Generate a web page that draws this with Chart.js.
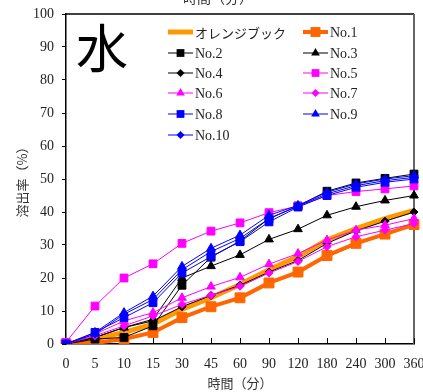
<!DOCTYPE html>
<html>
<head>
<meta charset="utf-8">
<script src="https://cdn.jsdelivr.net/npm/chart.js@4/dist/chart.umd.min.js"></script>
<style>
  html, body { margin: 0; padding: 0; background: #fff; }
  #wrap { width: 423px; height: 392px; position: relative; }
</style>
</head>
<body>
<div id="wrap"><canvas id="c" width="423" height="392"></canvas></div>
<script>
'use strict';

// 時間（分）
const TIMES = ['0', '5', '10', '15', '30', '45', '60', '90', '120', '180', '240', '300', '360'];

// 溶出率（%）
const ORANGE_BOOK = [0, 1.5, 3.5, 6, 10.5, 14, 18, 22.5, 26.5, 31.5, 35, 38, 40.5];
const NO1  = [0, 0.3, 1.5, 3.5, 8, 11.3, 14, 18.5, 21.8, 26.8, 30.5, 33.3, 36.2];
const NO2  = [0, 1.5, 2, 5.5, 17.8, 26.3, 31.2, 38, 41.8, 46.3, 48.8, 50.2, 51.5];
const NO3  = [0, 2, 5, 7.5, 20, 23.6, 27, 31.7, 34.8, 39, 41.6, 43.5, 45];
const NO4  = [0, 2, 5, 7, 11.3, 14.7, 17.8, 21.8, 25.3, 30.5, 34.3, 37.2, 40];
const NO5  = [0.5, 11.5, 20, 24.3, 30.5, 34.2, 36.7, 39.8, 41.8, 45, 46.2, 47, 47.9];
const NO6  = [0, 3, 7, 9.5, 14, 17.4, 20.2, 24.2, 27.4, 31.5, 34.5, 36, 38];
const NO7  = [0, 2.5, 5.5, 8.5, 12, 14.8, 17.5, 21.5, 25, 29.5, 32.5, 34.5, 36.5];
const NO8  = [0, 3.5, 8, 12.5, 21.5, 26.5, 31, 37, 41.5, 45, 47.5, 49, 50];
const NO9  = [0, 3.5, 9.5, 14.5, 23.5, 29, 33, 39, 42, 46, 48.5, 50, 51];
const NO10 = [0, 3, 9, 13.5, 22.5, 28, 32, 38, 41.8, 45.5, 48, 49.5, 50.5];

const Y_TICKS = [0, 10, 20, 30, 40, 50, 60, 70, 80, 90, 100];

const SERIF = '"Liberation Serif", "DejaVu Serif", serif';
const CJK = '"Noto Sans CJK JP", "Noto Sans", sans-serif';

const BLACK = '#000000';
const MAGENTA = '#FF00FF';
const BLUE = '#0000FF';

// ---------------------------------------------------------------------------
// Datasets
// ---------------------------------------------------------------------------
function series(label, data, color, style, radius, width) {
  return {
    label, data,
    borderColor: color,
    backgroundColor: color,
    pointBackgroundColor: color,
    pointBorderColor: color,
    borderWidth: width || 1,
    pointStyle: style || false,
    pointRadius: style ? radius : 0,
    pointBorderWidth: 1,
    tension: 0,
  };
}

const datasets = [
  series('オレンジブック', ORANGE_BOOK, '#FF9900', null, 0, 5),
  series('No.1', NO1, '#FF6600', 'rect', 7, 4),
  series('No.2', NO2, BLACK, 'rect', 5.5),
  series('No.3', NO3, BLACK, 'triangle', 5),
  series('No.4', NO4, BLACK, 'rectRot', 4),
  series('No.5', NO5, MAGENTA, 'rect', 5.5),
  series('No.6', NO6, MAGENTA, 'triangle', 5),
  series('No.7', NO7, MAGENTA, 'rectRot', 4),
  series('No.8', NO8, BLUE, 'rect', 5.5),
  series('No.9', NO9, BLUE, 'triangle', 5),
  series('No.10', NO10, BLUE, 'rectRot', 4),
];
// later series on top, like the original
datasets.forEach((d, i) => { d.order = datasets.length - i; });

// ---------------------------------------------------------------------------
// Plugins: frame + inner x ticks, legend box, labels
// ---------------------------------------------------------------------------
function marker(ctx, style, x, y, r) {
  ctx.beginPath();
  if (style === 'rect') {
    const s = r * Math.SQRT1_2;
    ctx.rect(x - s, y - s, 2 * s, 2 * s);
  } else if (style === 'triangle') {
    ctx.moveTo(x, y - r);
    ctx.lineTo(x + r * 0.866, y + r * 0.5);
    ctx.lineTo(x - r * 0.866, y + r * 0.5);
    ctx.closePath();
  } else if (style === 'rectRot') {
    ctx.moveTo(x, y - r);
    ctx.lineTo(x + r, y);
    ctx.lineTo(x, y + r);
    ctx.lineTo(x - r, y);
    ctx.closePath();
  }
  ctx.fill();
}

const framePlugin = {
  id: 'frame',
  beforeDatasetsDraw(chart) {
    const { ctx, chartArea: a, scales } = chart;
    ctx.save();
    ctx.strokeStyle = '#000';
    ctx.lineWidth = 1.5;
    ctx.beginPath();
    ctx.moveTo(a.left, a.top);
    ctx.lineTo(a.right, a.top);
    ctx.stroke();
    ctx.strokeStyle = '#666';
    ctx.lineWidth = 2;
    ctx.beginPath();
    ctx.moveTo(a.right, a.top);
    ctx.lineTo(a.right, a.bottom);
    ctx.stroke();
    // x ticks point inward
    ctx.strokeStyle = '#000';
    ctx.lineWidth = 1;
    ctx.beginPath();
    scales.x.ticks.forEach((_, i) => {
      const px = Math.round(scales.x.getPixelForTick(i)) + 0.5;
      ctx.moveTo(px, a.bottom);
      ctx.lineTo(px, a.bottom - 6);
    });
    ctx.stroke();
    ctx.restore();
  },
  afterDraw(chart) {
    const { ctx } = chart;
    ctx.save();
    // big label
    ctx.fillStyle = '#000';
    ctx.font = '52px ' + CJK;
    ctx.textAlign = 'center';
    ctx.textBaseline = 'middle';
    ctx.fillText('水', 102, 48);
    // title cut by the top edge
    ctx.fillStyle = '#333';
    ctx.font = '14px ' + CJK;
    ctx.fillText('時間（分）', 218, -2);

    // legend, two columns
    const cols = [168, 303];
    const rowY = [32, 53, 73, 93, 114, 135];
    chart.data.datasets.forEach((d, i) => {
      const col = i % 2;
      const row = Math.floor(i / 2);
      const x0 = cols[col];
      const y = rowY[row];
      ctx.strokeStyle = d.borderColor;
      ctx.fillStyle = d.borderColor;
      ctx.lineWidth = d.borderWidth;
      ctx.beginPath();
      ctx.moveTo(x0, y);
      ctx.lineTo(x0 + 25, y);
      ctx.stroke();
      if (d.pointStyle) marker(ctx, d.pointStyle, x0 + 12.5, y, d.pointRadius);
      ctx.fillStyle = '#222';
      ctx.textAlign = 'left';
      ctx.textBaseline = 'middle';
      ctx.font = i === 0 ? '13px ' + CJK : '14px ' + SERIF;
      ctx.fillText(d.label, x0 + 27, y + 1);
    });
    ctx.restore();
  },
};

// ---------------------------------------------------------------------------
// Chart
// ---------------------------------------------------------------------------
new Chart(document.getElementById('c'), {
  type: 'line',
  data: { labels: TIMES, datasets },
  options: {
    responsive: false,
    animation: false,
    layout: { padding: { top: 14, right: 9, bottom: 0, left: 10 } },
    plugins: {
      legend: { display: false },
      tooltip: { enabled: false },
    },
    scales: {
      x: {
        type: 'category',
        offset: false,
        grid: { display: false },
        border: { display: true, color: '#000', width: 1.5 },
        ticks: {
          color: '#222',
          font: { family: SERIF, size: 14 },
          padding: 4,
          maxRotation: 0,
          autoSkip: false,
        },
        title: {
          display: true,
          text: '時間（分）',
          color: '#333',
          font: { family: CJK, size: 13 },
          padding: { top: 0, bottom: 1 },
        },
        afterFit(s) {
          s.height = 48;
          s.paddingLeft = 0;
          s.paddingRight = 0;
        },
      },
      y: {
        min: 0,
        max: 100,
        afterBuildTicks(s) { s.ticks = Y_TICKS.map(v => ({ value: v })); },
        grid: {
          drawOnChartArea: false,
          drawTicks: true,
          tickLength: 4,
          color: '#000',
        },
        border: { display: true, color: '#000', width: 1.5 },
        ticks: {
          color: '#222',
          font: { family: SERIF, size: 14 },
          padding: 8,
        },
        title: {
          display: true,
          text: '溶出率（%）',
          color: '#333',
          font: { family: CJK, size: 13 },
          padding: { top: 4, bottom: 0 },
        },
        afterFit(s) {
          s.width = 56;
          s.paddingTop = 0;
          s.paddingBottom = 0;
        },
      },
    },
  },
  plugins: [framePlugin],
});
</script>
</body>
</html>
